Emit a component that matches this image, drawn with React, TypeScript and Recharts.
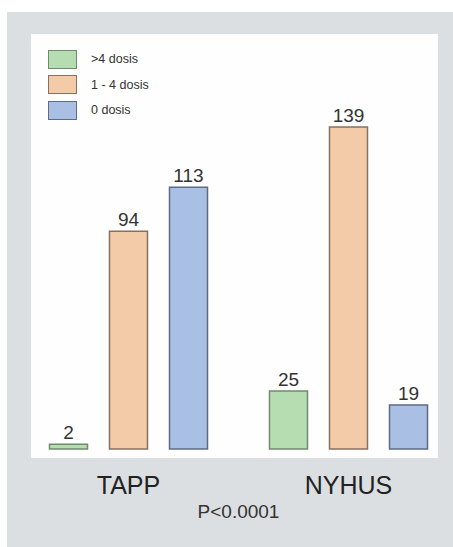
import React from 'react';
import { BarChart, Bar, XAxis, YAxis, LabelList, Legend } from 'recharts';

const categories = ['TAPP', 'NYHUS'];
const moreThanFour = [2, 25];
const oneToFour = [94, 139];
const zeroDoses = [113, 19];
const seriesNames = ['>4 dosis', '1 - 4 dosis', '0 dosis'];
const pValueText = 'P<0.0001';

const data = categories.map((c, i) => ({
  name: c,
  high: moreThanFour[i],
  mid: oneToFour[i],
  zero: zeroDoses[i],
}));

const series = [
  { key: 'high', name: seriesNames[0], fill: '#b6dcb1', stroke: '#6f8a6c' },
  { key: 'mid', name: seriesNames[1], fill: '#f3cba8', stroke: '#86705f' },
  { key: 'zero', name: seriesNames[2], fill: '#a9bfe3', stroke: '#5f6a85' },
];

const FONT = '"Liberation Sans", Arial, Helvetica, sans-serif';

const CategoryTick = (props: any) => {
  const { x, y, payload } = props;
  return (
    <text x={x} y={y + 45} textAnchor="middle" fontSize={25} fill="#222" fontFamily={FONT}>
      {payload.value}
    </text>
  );
};

const PLabel = (props: any) => {
  const vb = props.viewBox || {};
  return (
    <text x={vb.x + vb.width / 2} y={vb.y + 69} textAnchor="middle" fontSize={19} fill="#333" fontFamily={FONT}>
      {pValueText}
    </text>
  );
};

const LegendContent = () => (
  <div style={{ fontFamily: FONT }}>
    {series.map((s) => (
      <div key={s.key} style={{ display: 'flex', alignItems: 'center', height: 25.5 }}>
        <div
          style={{
            width: 27,
            height: 17,
            background: s.fill,
            border: `1px solid ${s.stroke}`,
            marginRight: 14,
          }}
        />
        <span style={{ fontSize: 12.5, color: '#333' }}>{s.name}</span>
      </div>
    ))}
  </div>
);

export default function App() {
  return (
    <div style={{ position: 'relative', width: 453, height: 547, background: '#fff', overflow: 'hidden' }}>
      <style>{`html,body{margin:0;padding:0;overflow:hidden;}`}</style>
      <div style={{ position: 'absolute', left: 7, top: 12, width: 446, height: 535, background: '#dcdfe2' }} />
      <div style={{ position: 'absolute', left: 31, top: 34, width: 407, height: 424, background: '#fefefe' }} />
      <div style={{ position: 'absolute', left: 0, top: 0, width: 453, height: 547, overflow: 'hidden' }}>
        <BarChart
          width={480}
          height={547}
          data={data}
          margin={{ top: 101.5, right: 21.5, bottom: 0, left: 18.5 }}
          barSize={38}
          barGap={22}
        >
          <XAxis
            dataKey="name"
            axisLine={false}
            tickLine={false}
            tickSize={0}
            tickMargin={0}
            height={98}
            tick={<CategoryTick />}
            interval={0}
            label={<PLabel />}
          />
          <YAxis hide domain={[0, 150]} />
          <Legend
            layout="vertical"
            align="center"
            verticalAlign="middle"
            content={<LegendContent />}
            wrapperStyle={{ left: 48, top: 46.5, width: 150, height: 80 }}
          />
          {series.map((s) => (
            <Bar
              key={s.key}
              dataKey={s.key}
              name={s.name}
              fill={s.fill}
              stroke={s.stroke}
              strokeWidth={1.5}
              isAnimationActive={false}
            >
              <LabelList
                dataKey={s.key}
                position="top"
                offset={5}
                fontSize={19}
                fill="#333"
                fontFamily={FONT}
              />
            </Bar>
          ))}
        </BarChart>
      </div>
    </div>
  );
}
